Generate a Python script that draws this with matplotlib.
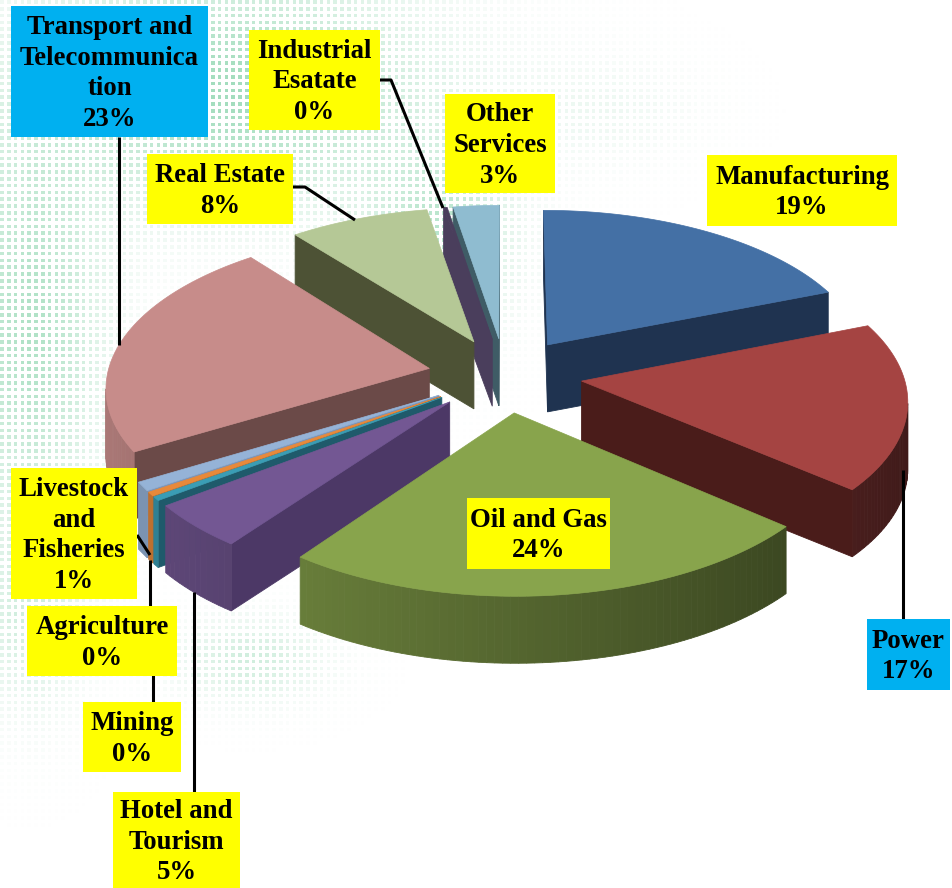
import numpy as np
import matplotlib.pyplot as plt
from matplotlib.colors import to_rgb

# Chart data, clockwise from 12 o'clock
categories = ['Manufacturing', 'Power', 'Oil and Gas', 'Hotel and\nTourism', 'Mining',
              'Agriculture', 'Livestock\nand\nFisheries', 'Transport and\nTelecommunica\ntion',
              'Real Estate', 'Industrial\nEsatate', 'Other\nServices']
shares = [19.0, 17.2, 23.9, 4.6, 0.4, 0.4, 0.9, 22.9, 7.9, 0.2, 2.6]
percent_labels = ['19%', '17%', '24%', '5%', '0%', '0%', '1%', '23%', '8%', '0%', '3%']
slice_colors = ['#4470A5', '#A54442', '#88A44C', '#735793', '#3A9DB5', '#E8893A',
                '#95B3D7', '#C78C8A', '#B5C896', '#4A3E5C', '#8FBCD0']
wall_colors = ['#1F3350', '#4A1C1A', '#3D4A20', '#4C3866', '#1F5A6B', '#B0682A',
               '#7C95B8', '#6B4A48', '#4D5235', '#4A3E5C', '#3F5C66']

# Label boxes: left, right, top, bottom in pixels
label_boxes = [(707, 897, 155, 226), (867, 950, 619, 690), (467, 610, 498, 569),
               (113, 240, 792, 888), (83, 181, 702, 772), (27, 177, 606, 676),
               (11, 137, 468, 599), (11, 208, 6, 137), (147, 293, 154, 224),
               (249, 380, 30, 130), (445, 555, 94, 193)]
label_fill = ['#FFFF00', '#00B0F0', '#FFFF00', '#FFFF00', '#FFFF00', '#FFFF00',
              '#FFFF00', '#00B0F0', '#FFFF00', '#FFFF00', '#FFFF00']
leader_lines = [[(903, 620), (903, 470)], [(194, 792), (194, 592)], [(153, 702), (153, 670)],
                [(150, 606), (150, 560)], [(137, 535), (150, 555)], [(119, 137), (119, 345)],
                [(293, 187), (305, 187), (355, 220)], [(380, 80), (391, 80), (443, 208)]]

# Pie projection settings
cx, cy = 505, 375
rx, ry = 322, 155
tilt = 0.107
explode = 0.24
depth = 67


def project(u, v):
    w = 1 + tilt * v
    return cx + rx * u / w, cy - ry * v / w


def shade(color, factor):
    return tuple(min(1, c * factor) for c in to_rgb(color))


fig = plt.figure(figsize=(9.52, 8.88), dpi=100)
ax = fig.add_axes([0, 0, 1, 1])
ax.set_xlim(0, 952)
ax.set_ylim(888, 0)
ax.axis('off')

# Faded halftone texture behind the pie
gx, gy = np.meshgrid(np.arange(2, 952, 6.8), np.arange(2, 888, 6.8))
gx, gy = gx.ravel(), gy.ravel()
blobs = [(230, 90, 190, 110, 0.7), (30, 330, 70, 190, 0.6), (440, 240, 70, 90, 0.5),
         (250, 660, 70, 40, 0.35), (30, 620, 50, 90, 0.3), (600, 110, 90, 50, 0.12)]
strength = sum(a * np.exp(-((gx - x) / sx) ** 2 - ((gy - y) / sy) ** 2) for x, y, sx, sy, a in blobs)
dots = np.zeros((gx.size, 4))
dots[:, :3] = to_rgb('#7CCFA2')
dots[:, 3] = np.clip(strength, 0, 0.7)
ax.scatter(gx, gy, s=6, marker='s', c=dots, linewidths=0, zorder=1)

# Slice angles from the shares
fractions = np.array(shares) / sum(shares)
ends = np.cumsum(fractions) * 2 * np.pi
starts = ends - fractions * 2 * np.pi
middles = (starts + ends) / 2

z = 2
for i in np.argsort(-np.cos(middles)):
    du, dv = explode * np.sin(middles[i]), explode * np.cos(middles[i])
    theta = np.linspace(starts[i], ends[i], max(int(fractions[i] * 300), 2))
    px, py = project(du + np.sin(theta), dv + np.cos(theta))
    tx, ty = project(du, dv)
    outline_x = np.r_[tx, px, tx]
    outline_y = np.r_[ty, py, ty]
    # walls under the top edge, only those facing the viewer
    for k in range(len(outline_x) - 1):
        if outline_x[k + 1] >= outline_x[k]:
            continue
        if k == 0 or k == len(outline_x) - 2:
            color = wall_colors[i]
        else:
            mid = (theta[k - 1] + theta[k]) / 2
            color = shade(slice_colors[i], 0.62 - 0.24 * np.sin(mid))
        ax.fill([outline_x[k], outline_x[k + 1], outline_x[k + 1], outline_x[k]],
                [outline_y[k], outline_y[k + 1], outline_y[k + 1] + depth, outline_y[k] + depth],
                color=color, lw=0.6, zorder=z)
    ax.fill(outline_x, outline_y, color=slice_colors[i], lw=0.5, zorder=z + 0.5)
    z += 1

# Leaders and data labels
for line in leader_lines:
    xs, ys = zip(*line)
    ax.plot(xs, ys, color='black', lw=2.2, solid_capstyle='butt', zorder=40)

for name, pct, box, fill in zip(categories, percent_labels, label_boxes, label_fill):
    left, right, top, bottom = box
    ax.fill([left, right, right, left], [top, top, bottom, bottom], color=fill, lw=0, zorder=41)
    ax.text((left + right) / 2, (top + bottom) / 2 + 2, name + '\n' + pct, ha='center', va='center',
            family='Liberation Serif', weight='bold', size=19.3, linespacing=1.3, zorder=42)

fig.savefig('out.png', dpi=100)
